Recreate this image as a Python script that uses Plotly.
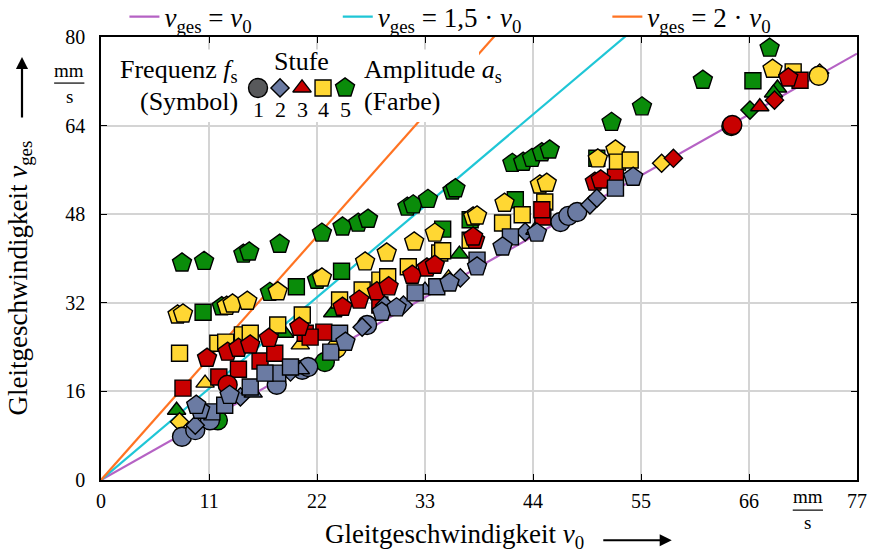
import plotly.graph_objects as go

# ---------------------------------------------------------------------------
# Measured points, one group per amplitude step a_s (colour).
# *_v0   : Gleitgeschwindigkeit v_0   in mm/s
# *_vges : Gleitgeschwindigkeit v_ges in mm/s
# *_freq : frequency step f_s (1..5, shown by the marker symbol)
# ---------------------------------------------------------------------------
amp5_v0 = [8.25, 10.5, 14.5, 15.1, 18.2, 22.5, 24.6, 26.2, 27.2, 31.2, 31.8, 33.3,
           35.8, 36.1, 41.9, 43.0, 43.9, 44.9, 45.7, 52.0, 55.1, 61.3, 68.1,
           12.3, 17.2, 22.0,
           10.4, 19.9, 24.5, 34.8, 37.6, 42.2, 50.5, 66.4,
           23.6, 36.5, 68.9, 68.5, 7.7, 18.7,
           66.1,
           64.2, 11.9, 22.8]
amp5_vges = [39.2, 39.5, 40.8, 41.2, 42.6, 44.6, 45.7, 46.4, 47.1, 49.3, 49.7, 50.7,
             52.2, 52.6, 57.2, 57.4, 58.1, 59.1, 59.6, 64.6, 67.4, 72.2, 78.0,
             31.3, 33.9, 36.1,
             30.3, 34.9, 37.7, 45.3, 47.0, 50.6, 58.1, 72.1,
             30.2, 40.8, 70.8, 69.9, 12.6, 26.5,
             66.8,
             63.9, 10.8, 21.3]
amp5_freq = [5] * 26 + [4] * 8 + [3] * 6 + [2] + [1] * 3

amp4_v0 = [7.8, 8.35, 12.8, 13.4, 14.9, 18.0, 22.5, 26.9, 29.1, 31.9, 34.0, 37.9,
           38.3, 41.1, 44.7, 45.4, 50.6, 52.4, 68.4,
           8.0, 11.9, 12.7, 14.4, 15.2, 18.0, 20.5, 24.3, 26.6, 28.4, 29.2, 31.3,
           34.5, 34.8, 37.6, 40.9, 42.9, 45.2, 52.6, 53.9, 70.5,
           10.6, 20.3, 35.4,
           8.0, 57.1, 73.2,
           73.1, 24.0]
amp4_vges = [29.8, 30.0, 31.4, 31.8, 32.3, 34.0, 36.5, 39.4, 41.0, 43.0, 44.6, 47.5,
             47.7, 50.0, 53.3, 53.6, 58.0, 59.6, 74.2,
             22.9, 24.7, 24.9, 26.2, 26.5, 28.0, 29.8, 32.5, 34.3, 36.1, 36.7, 38.5,
             41.0, 41.4, 43.3, 46.4, 47.9, 50.2, 57.4, 57.8, 73.7,
             17.5, 24.4, 36.5,
             10.5, 57.2, 73.5,
             73.0, 23.8]
amp4_freq = [5] * 19 + [4] * 21 + [3] * 3 + [2] * 3 + [1] * 2

amp3_v0 = [8.35, 12.0, 14.0, 16.2, 17.7, 22.7, 20.8, 21.3, 28.4, 45.0, 44.9, 52.4, 71.2,
           10.8, 12.9, 14.0, 15.2, 17.1, 20.2, 24.6, 26.3, 28.1, 29.3, 31.7, 33.2,
           34.0, 38.1, 37.9, 50.3, 50.9, 70.0,
           67.1,
           68.6, 58.3,
           64.3, 12.9]
amp3_vges = [16.6, 18.6, 20.0, 21.5, 22.9, 26.7, 26.5, 25.8, 31.6, 47.5, 48.8, 54.7, 72.2,
             22.0, 23.1, 23.8, 24.4, 25.6, 27.6, 31.2, 32.5, 34.0, 34.9, 37.0, 38.3,
             38.8, 43.3, 43.9, 53.8, 54.2, 72.6,
             67.4,
             68.6, 58.1,
             64.1, 17.2]
amp3_freq = [4] * 13 + [5] * 18 + [3] + [2] * 2 + [1] * 2

amp2_v0 = [8.25, 9.6, 11.1, 46.8, 47.6, 48.5, 27.1, 20.5, 21.1, 17.9,
           9.6, 14.2, 19.3, 26.6, 30.8, 36.6, 49.8, 50.5, 43.2, 28.9,
           15.2, 15.5, 33.0, 44.2, 20.3,
           11.3, 12.6, 15.2, 18.0, 16.7, 19.3, 24.3, 23.4, 32.0, 34.2, 38.3, 52.4, 41.7,
           10.1, 9.7, 13.1, 24.9, 28.6, 35.5, 38.3, 40.9, 44.4, 54.2, 30.1]
amp2_vges = [7.8, 9.0, 10.8, 46.6, 47.7, 48.4, 28.0, 19.9, 20.4, 17.2,
             9.9, 15.0, 19.5, 27.6, 31.6, 36.5, 49.7, 50.9, 44.8, 31.6,
             16.3, 15.7, 34.3, 45.1, 19.9,
             12.3, 13.5, 16.8, 19.3, 19.3, 20.4, 26.5, 23.1, 33.8, 34.9, 39.7, 52.7, 43.9,
             12.6, 13.5, 15.3, 24.9, 30.3, 35.6, 38.5, 42.1, 44.6, 54.7, 31.1]
amp2_freq = [1] * 10 + [2] * 10 + [3] * 5 + [4] * 13 + [5] * 11

# reference lines v_ges = k * v_0
line_factors = [1, 1.5, 2]
line_names = ["<i>v</i><sub>ges</sub> = <i>v</i><sub>0</sub>",
              "<i>v</i><sub>ges</sub> = 1,5 · <i>v</i><sub>0</sub>",
              "<i>v</i><sub>ges</sub> = 2 · <i>v</i><sub>0</sub>"]
line_colors = ["#B562C4", "#1FC6D6", "#FF7322"]
# trailing gap after each legend label (no-break spaces)
legend_pad = [12, 12, 0]

x_ticks = [0, 11, 22, 33, 44, 55, 66, 77]
y_ticks = [0, 16, 32, 48, 64, 80]
steps = [1, 2, 3, 4, 5]

# styling per step
amp_colors = {1: "#58595B", 2: "#6B7BA3", 3: "#C80000", 4: "#FFD733", 5: "#0A8C0A"}
freq_symbols = {1: "circle", 2: "diamond", 3: "triangle-up", 4: "square", 5: "pentagon"}
symbol_sizes = {1: 19, 2: 14, 3: 16, 4: 16, 5: 20}

FONT = "Liberation Serif"
X_MAX, Y_MAX = 77, 80

fig = go.Figure()

for k, name, col, pad in zip(line_factors, line_names, line_colors, legend_pad):
    xs = [0, X_MAX]
    fig.add_trace(go.Scatter(x=xs, y=[k * v for v in xs], mode="lines",
                             name=name + "\u00a0" * pad,
                             line=dict(color=col, width=2.2), hoverinfo="skip"))

groups = [(5, amp5_v0, amp5_vges, amp5_freq),
          (4, amp4_v0, amp4_vges, amp4_freq),
          (3, amp3_v0, amp3_vges, amp3_freq),
          (2, amp2_v0, amp2_vges, amp2_freq)]
for amp, xv, yv, fv in groups:
    fig.add_trace(go.Scatter(
        x=xv, y=yv, mode="markers", showlegend=False,
        marker=dict(color=amp_colors[amp], opacity=1,
                    symbol=[freq_symbols[f] for f in fv],
                    size=[symbol_sizes[f] for f in fv],
                    line=dict(color="black", width=1.4)),
    ))

# key box (overlay axes in plot-fraction units)
box_x = [0.004, 0.50, 0.50, 0.004, 0.004]
box_y = [0.808, 0.808, 0.972, 0.972, 0.808]
fig.add_trace(go.Scatter(x=box_x, y=box_y, xaxis="x2", yaxis="y2", mode="lines",
                         fill="toself", fillcolor="white", line=dict(width=0),
                         showlegend=False, hoverinfo="skip"))
key_x = [0.2077, 0.2368, 0.2659, 0.2937, 0.3228]
key_y = 0.885
fig.add_trace(go.Scatter(
    x=key_x, y=[key_y] * 5, xaxis="x2", yaxis="y2", mode="markers", showlegend=False,
    marker=dict(color=[amp_colors[s] for s in steps], opacity=1,
                symbol=[freq_symbols[s] for s in steps],
                size=[symbol_sizes[s] for s in steps],
                line=dict(color="black", width=1.4)),
    hoverinfo="skip"))

ann = []
txt = dict(family=FONT, size=26, color="black")
ann.append(dict(x=0.184, y=0.923, text="Frequenz <i>f</i><sub>s</sub>", xanchor="right"))
ann.append(dict(x=0.184, y=0.855, text="(Symbol)", xanchor="right"))
ann.append(dict(x=0.265, y=0.944, text="Stufe", xanchor="center"))
ann.append(dict(x=0.345, y=0.923, text="Amplitude <i>a</i><sub>s</sub>", xanchor="left"))
ann.append(dict(x=0.345, y=0.855, text="(Farbe)", xanchor="left"))
for s, kx in zip(steps, key_x):
    ann.append(dict(x=kx, y=0.836, text=str(s), xanchor="center",
                    font=dict(family=FONT, size=22, color="black")))
# axis titles
ann.append(dict(x=0.468, y=-0.127, text="Gleitgeschwindigkeit <i>v</i><sub>0</sub>",
                xanchor="center", font=dict(family=FONT, size=27, color="black")))
ann.append(dict(x=-0.107, y=0.455, text="Gleitgeschwindigkeit <i>v</i><sub>ges</sub>",
                textangle=-90, xanchor="center", yanchor="middle",
                font=dict(family=FONT, size=27, color="black")))
# units
unit_font = dict(family=FONT, size=19, color="black")
ann.append(dict(x=-0.042, y=0.925, text="mm", xanchor="center", font=unit_font))
ann.append(dict(x=-0.042, y=0.866, text="s", xanchor="center", font=unit_font))
ann.append(dict(x=0.935, y=-0.038, text="mm", xanchor="center", font=unit_font))
ann.append(dict(x=0.935, y=-0.097, text="s", xanchor="center", font=unit_font))
for a in ann:
    a.setdefault("font", txt)
    a.update(xref="paper", yref="paper", showarrow=False)
    a.setdefault("yanchor", "middle")
# direction arrows
ann.append(dict(x=0.755, y=-0.136, ax=-70, ay=0, xref="paper", yref="paper", text="",
                showarrow=True, arrowhead=2, arrowsize=1.1, arrowwidth=2.2, arrowcolor="black"))
ann.append(dict(x=-0.1045, y=0.955, ax=0, ay=62, xref="paper", yref="paper", text="",
                showarrow=True, arrowhead=2, arrowsize=1.1, arrowwidth=2.2, arrowcolor="black"))

shapes = [
    dict(type="line", xref="paper", yref="paper", x0=-0.062, x1=-0.022, y0=0.896, y1=0.896,
         line=dict(color="black", width=1.2)),
    dict(type="line", xref="paper", yref="paper", x0=0.915, x1=0.955, y0=-0.068, y1=-0.068,
         line=dict(color="black", width=1.2)),
]

axis_common = dict(
    showline=True, linecolor="black", linewidth=1.6, mirror="allticks",
    ticks="inside", ticklen=6, tickwidth=1.4, tickcolor="black",
    showgrid=True, gridcolor="#D4D4D4", gridwidth=1.5, zeroline=False,
    tickfont=dict(family=FONT, size=20, color="black"),
)

fig.update_layout(
    width=871, height=554,
    margin=dict(l=101, r=14, t=37, b=74, autoexpand=False),
    paper_bgcolor="white", plot_bgcolor="white",
    xaxis=dict(range=[0, X_MAX], tickvals=x_ticks, ticklabelstandoff=2, **axis_common),
    yaxis=dict(range=[0, Y_MAX], tickvals=y_ticks, ticklabelstandoff=10, **axis_common),
    xaxis2=dict(range=[0, 1], overlaying="x", visible=False, fixedrange=True),
    yaxis2=dict(range=[0, 1], overlaying="y", anchor="x2", visible=False, fixedrange=True),
    legend=dict(orientation="h", x=0.031, y=1.045, xanchor="left", yanchor="middle",
                font=dict(family=FONT, size=27, color="black"),
                bgcolor="rgba(0,0,0,0)", tracegroupgap=0),
    annotations=ann,
    shapes=shapes,
    showlegend=True,
)

fig.write_html("out.html")
